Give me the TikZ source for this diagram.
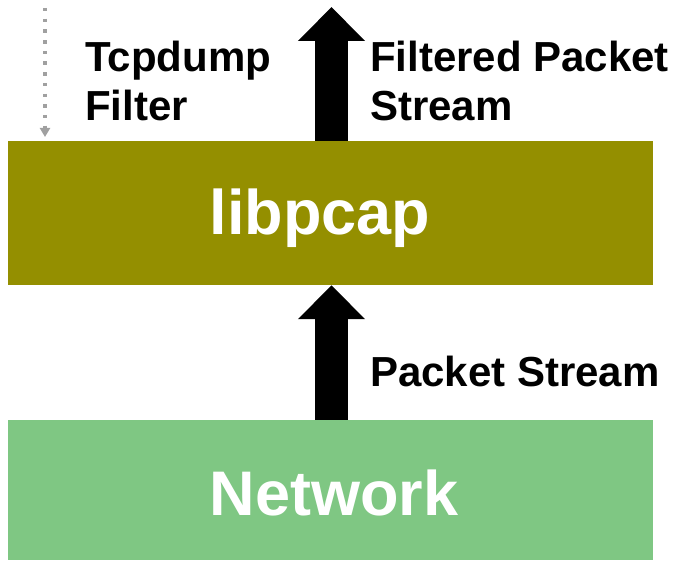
\documentclass[tikz,border=0pt]{standalone}
\usepackage{fontspec}
\setmainfont{Liberation Sans}
\usetikzlibrary{arrows.meta}
\definecolor{olivebox}{RGB}{148,143,0}
\definecolor{greenbox}{RGB}{127,199,131}
\definecolor{dotgray}{RGB}{160,160,160}
\begin{document}
\begin{tikzpicture}[x=1pt,y=-1pt,
  layerbox/.style={draw=none, minimum width=645pt, inner sep=0pt, text=white,
    font=\bfseries\fontsize{63}{70}\selectfont},
  label/.style={anchor=base west, inner sep=0pt, align=left,
    font=\bfseries\fontsize{42}{49}\selectfont},
  bigarrow/.style={line width=33pt, -{Triangle[width=65pt,length=34pt]}},
  dotarrow/.style={dotgray, line width=3.5pt, dash pattern=on 3.5pt off 7.2pt,
    -{Triangle[width=10pt,length=9pt,sep=0pt]}}]
\useasboundingbox (0,0) rectangle (682,561);
\node[layerbox, fill=olivebox, minimum height=144pt] (lib) at (330.5,213) {};
\node[layerbox, fill=greenbox, minimum height=140pt] (net) at (330.5,490) {};
\node[anchor=base, text=white, inner sep=0pt, font=\bfseries\fontsize{63}{70}\selectfont] (libt) at (320,235) {libpcap};
\node[anchor=base, text=white, inner sep=0pt, font=\bfseries\fontsize{63}{70}\selectfont] (nett) at (334,515) {Network};
\coordinate (toptip) at (331.5,7);
\coordinate (dotstart) at (45,8);
\coordinate (dotend) at (45,137);
\draw[bigarrow] (net.north -| toptip) -- (lib.south -| toptip);
\draw[bigarrow] (lib.north -| toptip) -- (toptip);
\draw[dotarrow] (dotstart) -- (dotend);
\node[label] (tcp) at (85,121) {Tcpdump\\Filter};
\node[label] (filt) at (370,121) {Filtered Packet\\Stream};
\node[label] (ps) at (370,386) {Packet Stream};
\end{tikzpicture}
\end{document}
